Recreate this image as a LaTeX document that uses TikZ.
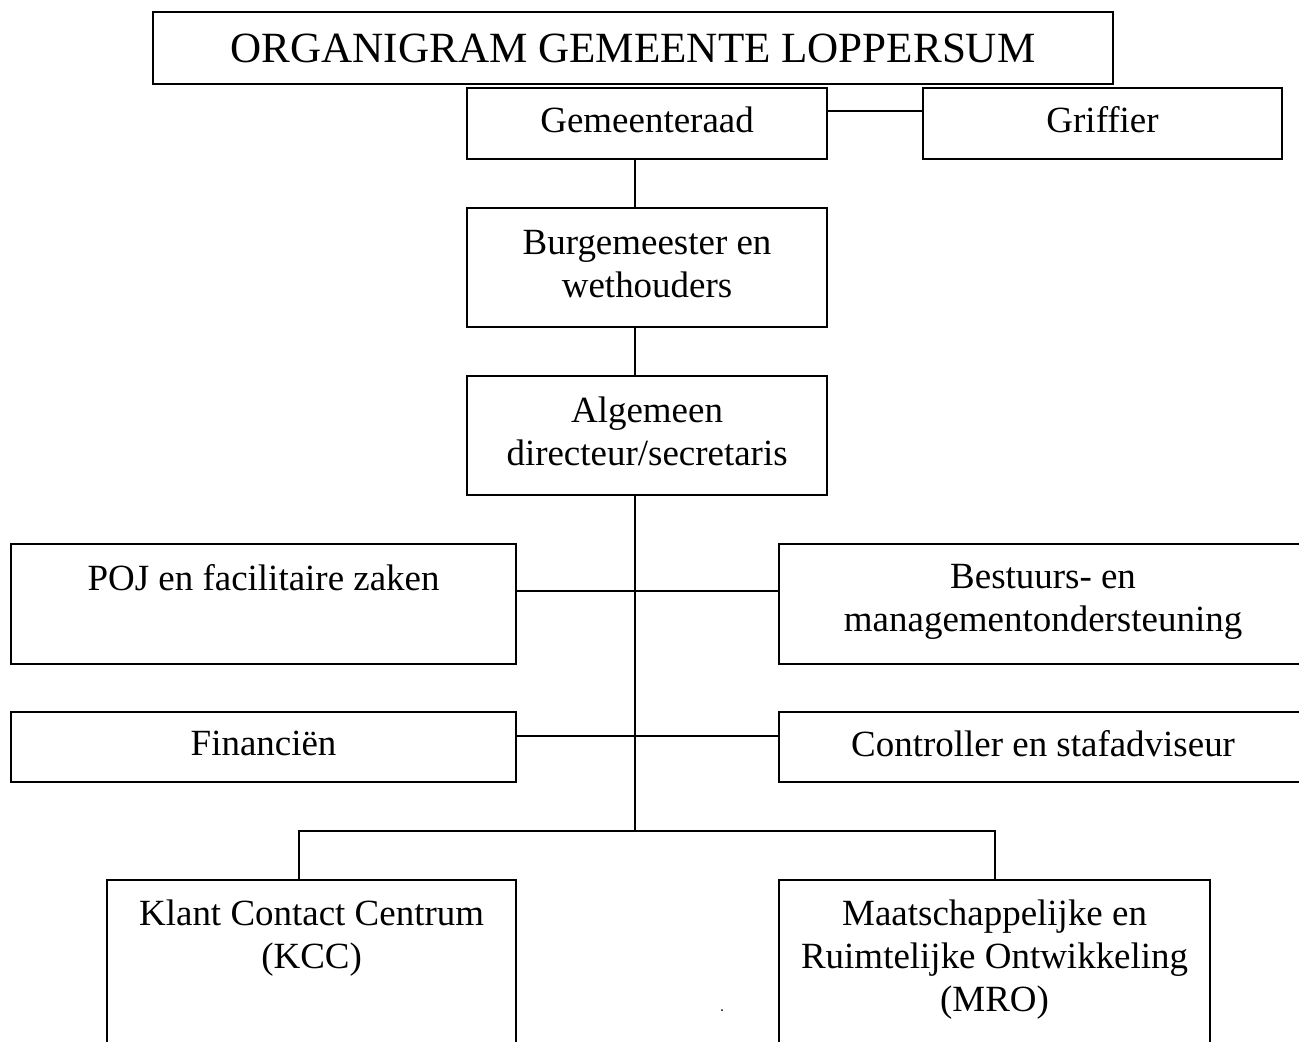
\documentclass[tikz,border=0pt]{standalone}
\usepackage{fontspec}
\setmainfont{Liberation Serif}

\begin{document}
\begin{tikzpicture}[x=0.3247pt, y=-0.3247pt, line width=0.7pt,
  box/.style 2 args={draw, inner sep=0pt, anchor=north west,
    minimum width=#1*0.3247pt, minimum height=#2*0.3247pt},
  txt/.style={font=\fontsize{12}{14}\selectfont, align=center, text depth=2.6pt}]

\useasboundingbox (0,0) rectangle (1299,1041);
\clip (0,0) rectangle (1299,1041);

\node[box={960}{72}, font=\fontsize{14}{16}\selectfont] (titel) at (152,11) {ORGANIGRAM GEMEENTE LOPPERSUM};

\node[box={360}{71}, txt] (raad) at (466,87) {Gemeenteraad};
\node[box={359}{71}, txt] (griffier) at (922,87) {Griffier};
\node[box={360}{119}, txt] (bw) at (466,207) {Burgemeester en\\wethouders};
\node[box={360}{119}, txt] (dir) at (466,375) {Algemeen\\directeur/secretaris};

\node[box={505}{120}] (poj) at (10,543) {};
\node[txt, anchor=north, inner sep=0pt] (pojtxt) at ([yshift=-20*0.3247pt]poj.north) {POJ en facilitaire zaken};
\node[box={528}{120}] (bestuur) at (778,543) {};
\node[txt, anchor=north, inner sep=0pt] (bestuurtxt) at ([yshift=-20*0.3247pt]bestuur.north) {Bestuurs- en\\managementondersteuning};

\node[box={505}{70}, txt] (fin) at (10,711) {Financiën};
\node[box={528}{70}, txt] (control) at (778,711) {Controller en stafadviseur};

\node[box={409}{200}] (kcc) at (106,879) {};
\node[txt, anchor=north, inner sep=0pt] (kcctxt) at ([yshift=-20*0.3247pt]kcc.north) {Klant Contact Centrum\\(KCC)};
\node[box={431}{200}] (mro) at (778,879) {};
\node[txt, anchor=north, inner sep=0pt] (mrotxt) at ([yshift=-20*0.3247pt]mro.north) {Maatschappelijke en\\Ruimtelijke Ontwikkeling\\(MRO)};

% lijnen
\coordinate (split) at (635,831);
\coordinate (rowG) at (635,111);
\coordinate (rowA) at (635,591);
\coordinate (rowB) at (635,736);
\coordinate (kccleg) at (299,831);

\draw (raad.east |- rowG) -- (griffier.west |- rowG);
\draw (raad.south -| split) -- (bw.north -| split);
\draw (bw.south -| split) -- (dir.north -| split);
\draw (dir.south -| split) -- (split);
\draw (poj.east |- rowA) -- (bestuur.west |- rowA);
\draw (fin.east |- rowB) -- (control.west |- rowB);
\draw (kcc.north -| kccleg) |- (split) -| (mro.north);

\fill (722,1010) circle[radius=1];

\end{tikzpicture}
\end{document}
